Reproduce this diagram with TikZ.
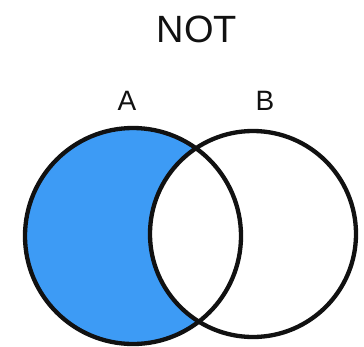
\documentclass[tikz,border=0pt]{standalone}
\usepackage{fontspec}
\setmainfont{Liberation Sans}
\usepackage{tikz}
\definecolor{Sky}{HTML}{3D9BF5}
\definecolor{Ink}{HTML}{111111}
\tikzset{
  vennline/.style={draw=Ink,line width=4.3pt},
  vennset/.style={circle,inner sep=0pt,draw=none},
  setlabel/.style={text=Ink,font=\fontsize{28}{33}\selectfont},
}
\begin{document}
\begin{tikzpicture}[x=1pt,y=-1pt]
    \useasboundingbox (0,0) rectangle (364,346);
    \node[text=Ink,font=\fontsize{38}{45}\selectfont] (title) at (197,29) {NOT};

    \node[setlabel] (labA) at (127,101) {A};
    \node[setlabel] (labB) at (265,101) {B};

    % A only, B cut out in white
    \node[vennset,minimum size=216pt,fill=Sky] (setA) at (133,236) {};
    \node[vennset,minimum size=206pt,fill=white] (setB) at (253,234) {};

    \draw[vennline] (setA.center) circle[radius=108];
    \draw[vennline] (setB.center) circle[radius=103];
  \end{tikzpicture}
\end{document}
